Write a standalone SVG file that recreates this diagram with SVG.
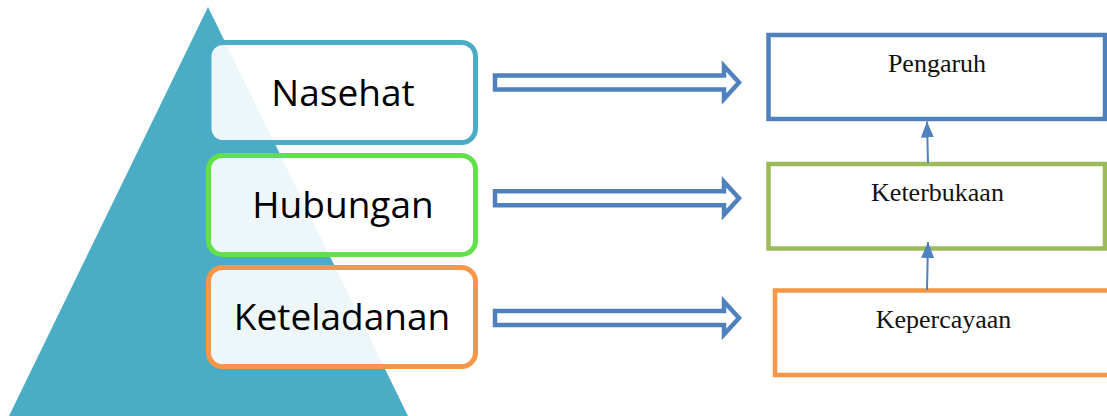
<svg xmlns="http://www.w3.org/2000/svg" width="1107" height="416" viewBox="0 0 1107 416">
  <style>
    .lvl { fill: #ffffff; fill-opacity: 0.9; stroke-width: 5; }
    .lvl-text { font-family: "Open Sans", "Noto Sans", sans-serif; font-size: 37px; fill: #000000; text-anchor: middle; }
    .res { fill: #ffffff; stroke-width: 4.5; }
    .res-text { font-family: "Liberation Serif", "Times New Roman", serif; font-size: 26px; fill: #111111; text-anchor: middle; }
    .block-arrow { fill: #ffffff; stroke: #4F81BD; stroke-width: 4.5; stroke-linejoin: miter; }
    .link { stroke: #4F81BD; stroke-width: 2; fill: none; }
  </style>
  <defs>
    <marker id="tri" viewBox="0 0 16 13" refX="16" refY="6.5" markerWidth="16" markerHeight="13" markerUnits="userSpaceOnUse" orient="auto">
      <path d="M0,0 L16,6.5 L0,13 Z" fill="#4F81BD"/>
    </marker>
    <path id="block" d="M0,-7 L229,-7 L229,-16.5 L244,0 L229,16.5 L229,7 L0,7 Z"/>
  </defs>

  <!-- pyramid backdrop -->
  <polygon id="pyramid" points="208,7 9,416 408,416" fill="#4BACC6"/>

  <!-- pyramid levels -->
  <g id="nasehat">
    <rect class="lvl" x="209" y="42.5" width="266.5" height="100" rx="14" stroke="#4BACC6"/>
    <text class="lvl-text" x="343" y="106">Nasehat</text>
  </g>
  <g id="hubungan">
    <rect class="lvl" x="208.5" y="155.5" width="267" height="99" rx="14" stroke="#62E04A"/>
    <text class="lvl-text" x="343" y="218">Hubungan</text>
  </g>
  <g id="keteladanan">
    <rect class="lvl" x="208.5" y="267.5" width="267" height="99" rx="14" stroke="#F79646"/>
    <text class="lvl-text" x="342" y="330">Keteladanan</text>
  </g>

  <!-- outcome boxes -->
  <g id="pengaruh">
    <rect class="res" x="768.5" y="35" width="336.5" height="84" stroke="#4F81BD"/>
    <text class="res-text" x="937" y="72">Pengaruh</text>
  </g>
  <g id="keterbukaan">
    <rect class="res" x="768.5" y="164" width="336.5" height="84.5" stroke="#9BBB59"/>
    <text class="res-text" x="937.5" y="201">Keterbukaan</text>
  </g>
  <g id="kepercayaan">
    <rect class="res" x="775" y="290.5" width="345" height="84.5" stroke="#F79646"/>
    <text class="res-text" x="943.5" y="328">Kepercayaan</text>
  </g>

  <!-- connectors -->
  <g id="connectors">
    <use href="#block" class="block-arrow" x="495" y="82.5"/>
    <use href="#block" class="block-arrow" x="495" y="198.3"/>
    <use href="#block" class="block-arrow" x="495" y="318"/>
    <line class="link" x1="928" y1="163" x2="927" y2="121.5" marker-end="url(#tri)"/>
    <line class="link" x1="927" y1="290" x2="928" y2="242" marker-end="url(#tri)"/>
  </g>
</svg>
